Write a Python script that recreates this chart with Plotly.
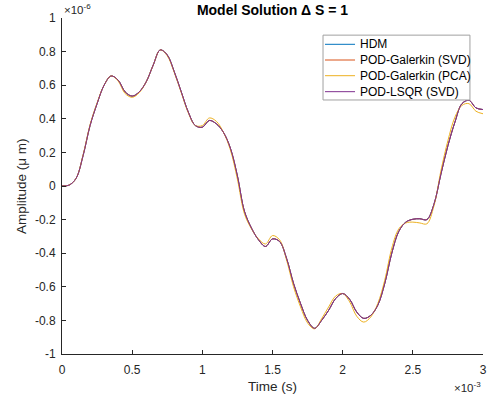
import plotly.graph_objects as go

# Time in milliseconds (axis shows x10^-3 s)
time_ms = [0.00, 0.05, 0.10, 0.15, 0.20, 0.25, 0.30, 0.35, 0.40, 0.45,
           0.50, 0.55, 0.60, 0.65, 0.70, 0.75, 0.80, 0.85, 0.90, 0.95,
           1.00, 1.05, 1.10, 1.15, 1.20, 1.25, 1.30, 1.35, 1.40, 1.45,
           1.50, 1.55, 1.60, 1.65, 1.70, 1.75, 1.80, 1.85, 1.90, 1.95,
           2.00, 2.05, 2.10, 2.15, 2.20, 2.25, 2.30, 2.35, 2.40, 2.45,
           2.50, 2.55, 2.60, 2.65, 2.70, 2.75, 2.80, 2.85, 2.90, 2.95, 3.00]

# Amplitudes in micrometres (axis shows x10^-6)
hdm = [0.000, 0.005, 0.045, 0.180, 0.360, 0.490, 0.600, 0.655, 0.630, 0.560,
       0.535, 0.560, 0.620, 0.720, 0.810, 0.780, 0.680, 0.560, 0.440, 0.360,
       0.350, 0.390, 0.370, 0.320, 0.225, 0.060, -0.150, -0.250, -0.320, -0.360,
       -0.315, -0.330, -0.430, -0.580, -0.700, -0.800, -0.847, -0.800, -0.740, -0.670,
       -0.640, -0.675, -0.750, -0.788, -0.770, -0.710, -0.580, -0.400, -0.270, -0.215,
       -0.198, -0.195, -0.200, -0.110, 0.070, 0.240, 0.380, 0.490, 0.510, 0.465, 0.455]

gal_svd = [0.000, 0.005, 0.045, 0.180, 0.360, 0.490, 0.600, 0.655, 0.630, 0.560,
           0.535, 0.560, 0.620, 0.720, 0.810, 0.780, 0.680, 0.560, 0.440, 0.360,
           0.350, 0.390, 0.370, 0.320, 0.225, 0.060, -0.150, -0.250, -0.320, -0.360,
           -0.315, -0.330, -0.430, -0.580, -0.700, -0.800, -0.847, -0.800, -0.740, -0.670,
           -0.640, -0.675, -0.750, -0.788, -0.770, -0.710, -0.580, -0.400, -0.270, -0.215,
           -0.198, -0.195, -0.200, -0.110, 0.070, 0.240, 0.380, 0.490, 0.510, 0.465, 0.455]

gal_pca = [0.000, 0.005, 0.045, 0.185, 0.365, 0.495, 0.600, 0.655, 0.625, 0.550,
           0.528, 0.555, 0.620, 0.720, 0.810, 0.775, 0.675, 0.555, 0.435, 0.360,
           0.360, 0.405, 0.385, 0.320, 0.215, 0.040, -0.165, -0.255, -0.315, -0.345,
           -0.295, -0.320, -0.440, -0.600, -0.720, -0.815, -0.850, -0.790, -0.720, -0.655,
           -0.640, -0.690, -0.775, -0.810, -0.780, -0.700, -0.560, -0.370, -0.255, -0.220,
           -0.215, -0.220, -0.225, -0.120, 0.090, 0.270, 0.410, 0.480, 0.490, 0.445, 0.430]

lsqr_svd = [0.000, 0.005, 0.045, 0.180, 0.360, 0.490, 0.600, 0.655, 0.630, 0.560,
            0.535, 0.560, 0.620, 0.720, 0.810, 0.780, 0.680, 0.560, 0.440, 0.360,
            0.350, 0.390, 0.370, 0.320, 0.225, 0.060, -0.150, -0.250, -0.320, -0.360,
            -0.315, -0.330, -0.430, -0.580, -0.700, -0.800, -0.847, -0.800, -0.740, -0.670,
            -0.640, -0.675, -0.750, -0.788, -0.770, -0.710, -0.580, -0.400, -0.270, -0.215,
            -0.198, -0.195, -0.200, -0.110, 0.070, 0.240, 0.380, 0.490, 0.510, 0.465, 0.455]

series_names = ["HDM", "POD-Galerkin (SVD)", "POD-Galerkin (PCA)", "POD-LSQR (SVD)"]
series_colors = ["#0072BD", "#D95319", "#EDB120", "#7E2F8E"]

x_tickvals = [0, 0.5, 1, 1.5, 2, 2.5, 3]
x_ticktext = ["0", "0.5", "1", "1.5", "2", "2.5", "3"]
y_tickvals = [-1, -0.8, -0.6, -0.4, -0.2, 0, 0.2, 0.4, 0.6, 0.8, 1]
y_ticktext = ["-1", "-0.8", "-0.6", "-0.4", "-0.2", "0", "0.2", "0.4", "0.6", "0.8", "1"]

FONT = "Liberation Sans, Arial, sans-serif"
AX = "#262626"

fig = go.Figure()
for name, vals, col in zip(series_names, [hdm, gal_svd, gal_pca, lsqr_svd], series_colors):
    fig.add_trace(go.Scatter(
        x=time_ms, y=vals, mode="lines", name=name, showlegend=False,
        line=dict(color=col, width=1, shape="spline", smoothing=1.0),
    ))

fig.update_layout(
    width=491, height=405,
    margin=dict(l=62, r=8, t=18, b=51, autoexpand=False),
    paper_bgcolor="white", plot_bgcolor="white",
    font=dict(family=FONT, size=12, color=AX),
    title=dict(text="<b>Model Solution \u0394 S = 1</b>", xref="paper", x=0.5, xanchor="center",
               y=0.975, yanchor="middle", font=dict(size=14, color="black")),
    showlegend=False,
    xaxis=dict(range=[0, 3], tickvals=x_tickvals, ticktext=x_ticktext, automargin=False,
               showgrid=False, zeroline=False, showline=True, linecolor=AX, linewidth=1,
               ticks="inside", ticklen=4, tickcolor=AX, mirror=False, ticklabelstandoff=5,
               tickfont=dict(size=12, color=AX)),
    yaxis=dict(range=[-1, 1], tickvals=y_tickvals, ticktext=y_ticktext, automargin=False,
               showgrid=False, zeroline=False, showline=True, linecolor=AX, linewidth=1,
               ticks="inside", ticklen=4, tickcolor=AX, mirror=False, ticklabelstandoff=3,
               tickfont=dict(size=12, color=AX)),
)

# Axis titles
fig.add_annotation(text="Time (s)", xref="paper", yref="paper", x=0.5, y=0.0,
                   xanchor="center", yanchor="middle", yshift=-32, showarrow=False,
                   font=dict(size=13.5, color=AX))
fig.add_annotation(text="Amplitude (\u03bc m)", xref="paper", yref="paper", x=0.0, y=0.5,
                   xanchor="center", yanchor="middle", xshift=-41, textangle=-90,
                   showarrow=False, font=dict(size=13.5, color=AX))

# Exponent labels
fig.add_annotation(text="\u00d710<sup>-6</sup>", xref="paper", yref="paper",
                   x=0.0, y=1.0, xanchor="left", yanchor="bottom",
                   showarrow=False, font=dict(size=11.5, color=AX))
fig.add_annotation(text="\u00d710<sup>-3</sup>", xref="paper", yref="paper",
                   x=1.0, y=0.0, xanchor="right", yanchor="middle", yshift=-33,
                   showarrow=False, font=dict(size=11.5, color=AX))

# Legend box (MATLAB style, compact)
leg_x0, leg_x1, leg_y0, leg_y1 = 0.620, 0.969, 0.756, 0.949
fig.add_shape(type="rect", xref="paper", yref="paper", x0=leg_x0, x1=leg_x1, y0=leg_y0, y1=leg_y1,
              line=dict(color="#a0a0a0", width=1), fillcolor="white", layer="above")
leg_rows = [0.9217, 0.8750, 0.8283, 0.7807]
for name, col, ry in zip(series_names, series_colors, leg_rows):
    fig.add_shape(type="line", xref="paper", yref="paper", x0=0.6247, x1=0.6960, y0=ry, y1=ry,
                  line=dict(color=col, width=1), layer="above")
    fig.add_annotation(text=name, xref="paper", yref="paper", x=0.7031, y=ry,
                       xanchor="left", yanchor="middle", showarrow=False,
                       font=dict(size=12, color="black"))

fig.write_html("out.html", config={"displayModeBar": False},
               post_script="document.body.style.margin='0';")
